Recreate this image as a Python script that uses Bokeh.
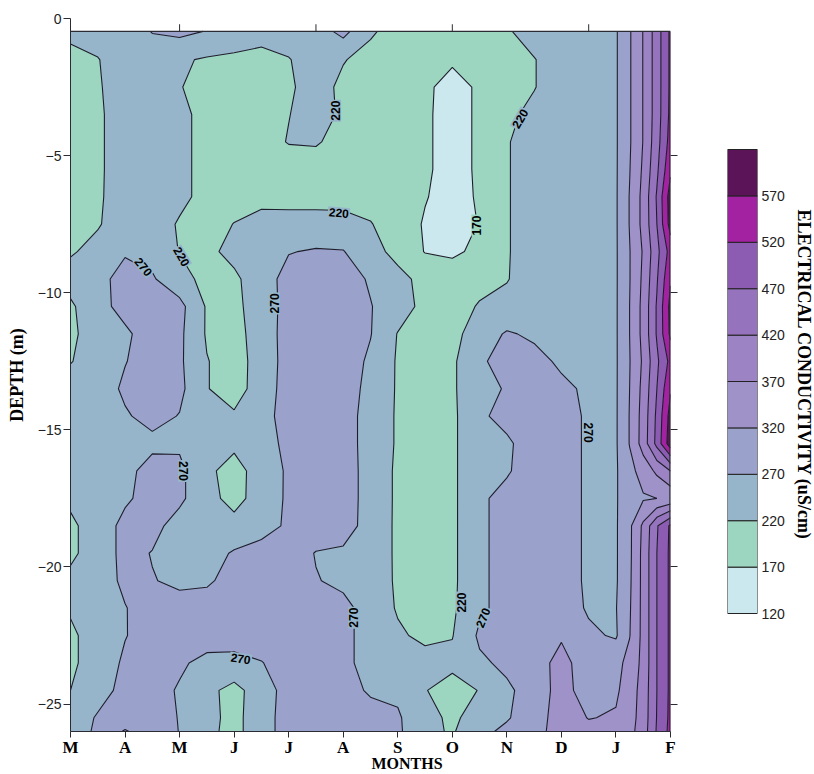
import numpy as np
from bokeh.plotting import figure
from bokeh.layouts import row
from bokeh.models import Range1d, FixedTicker, LinearAxis, ColumnDataSource, Title
from bokeh.core.properties import value
from bokeh.embed import file_html
from bokeh.resources import INLINE

# ---- data -------------------------------------------------------------
month_labels = ["M", "A", "M", "J", "J", "A", "S", "O", "N", "D", "J", "F"]
depth_ticks = [0, -5, -10, -15, -20, -25]

# sampling positions of the EC field (month index, depth in m)
grid_month = [0, 0.5, 1, 1.5, 2, 2.5, 3, 3.5, 4, 4.5, 5, 5.5, 6, 6.5, 7, 7.5,
              8, 8.5, 9, 9.5, 10, 10.25, 10.5, 10.75, 11]
grid_depth = [-0.47, -1.5, -2.5, -3.5, -4.5, -5.5, -6.5, -7.5, -8.5, -9.5,
              -10.5, -11.5, -12.5, -13.5, -14.5, -15.5, -16.5, -17.5, -18.5,
              -19.5, -20.5, -21.5, -22.5, -23.5, -24.5, -25.5, -26.0]

# electrical conductivity (uS/cm), one row per depth (shallow -> deep)
ec_values = [
    [232, 240, 245, 272, 282, 268, 245, 235, 240, 245, 285, 225, 205, 200, 200, 205, 215, 240, 245, 250, 265, 315, 372, 445, 530],
    [205, 218, 245, 245, 226, 215, 212, 208, 218, 240, 222, 208, 200, 180, 178, 200, 205, 218, 245, 250, 265, 315, 372, 445, 530],
    [200, 215, 245, 245, 222, 205, 200, 205, 215, 235, 212, 200, 192, 180, 150, 178, 205, 218, 245, 250, 265, 315, 372, 445, 530],
    [200, 212, 245, 245, 232, 205, 200, 205, 219, 235, 214, 200, 192, 178, 150, 178, 210, 232, 245, 250, 265, 315, 372, 445, 532],
    [200, 212, 245, 245, 232, 205, 200, 205, 222, 224, 205, 200, 192, 178, 150, 178, 217, 240, 245, 250, 265, 315, 372, 450, 540],
    [200, 212, 245, 245, 232, 205, 200, 200, 200, 200, 200, 198, 195, 178, 150, 178, 217, 240, 245, 250, 265, 318, 378, 460, 560],
    [200, 213, 245, 245, 232, 205, 205, 205, 202, 202, 202, 205, 195, 173, 150, 176, 217, 240, 245, 250, 265, 322, 385, 475, 595],
    [200, 216, 245, 245, 215, 205, 221, 238, 240, 240, 238, 222, 200, 165, 150, 172, 217, 240, 245, 250, 265, 322, 385, 470, 590],
    [215, 235, 265, 255, 218, 208, 235, 255, 268, 274, 272, 238, 205, 168, 162, 180, 217, 240, 245, 250, 265, 318, 375, 455, 540],
    [240, 255, 288, 275, 238, 205, 210, 250, 285, 292, 290, 265, 235, 205, 195, 205, 218, 240, 245, 250, 265, 318, 380, 465, 565],
    [212, 255, 285, 290, 285, 215, 210, 240, 290, 292, 290, 272, 245, 205, 200, 224, 232, 250, 245, 250, 265, 320, 385, 475, 585],
    [212, 240, 262, 292, 280, 215, 205, 240, 292, 295, 292, 272, 218, 200, 205, 245, 275, 262, 250, 250, 265, 320, 385, 475, 580],
    [218, 240, 268, 292, 278, 222, 200, 240, 290, 295, 295, 262, 215, 200, 212, 262, 290, 285, 262, 255, 265, 318, 378, 460, 535],
    [240, 245, 278, 295, 282, 222, 200, 242, 292, 295, 290, 258, 215, 200, 212, 262, 272, 295, 280, 262, 265, 320, 385, 470, 565],
    [240, 245, 265, 285, 268, 240, 226, 250, 292, 295, 292, 250, 215, 200, 210, 262, 285, 295, 292, 262, 265, 322, 390, 480, 590],
    [240, 245, 255, 258, 262, 245, 228, 245, 285, 295, 292, 250, 215, 200, 210, 262, 262, 295, 292, 262, 265, 322, 392, 485, 600],
    [240, 245, 255, 290, 282, 228, 205, 238, 278, 295, 292, 252, 212, 200, 210, 262, 265, 295, 292, 262, 265, 305, 340, 380, 420],
    [228, 245, 262, 290, 280, 235, 205, 240, 278, 295, 292, 252, 212, 200, 210, 262, 285, 295, 292, 262, 265, 305, 315, 320, 330],
    [212, 240, 285, 285, 250, 240, 235, 250, 278, 295, 292, 250, 212, 200, 210, 262, 285, 295, 292, 262, 265, 310, 380, 465, 528],
    [212, 240, 285, 268, 248, 250, 275, 290, 292, 268, 262, 250, 212, 200, 210, 262, 285, 295, 292, 262, 265, 310, 385, 470, 530],
    [230, 245, 280, 272, 262, 262, 290, 292, 295, 272, 262, 252, 212, 200, 210, 262, 285, 295, 292, 262, 265, 312, 385, 470, 530],
    [225, 245, 268, 292, 285, 295, 295, 295, 295, 292, 280, 255, 215, 200, 212, 262, 285, 295, 292, 265, 268, 315, 385, 470, 530],
    [212, 240, 268, 290, 292, 295, 292, 295, 295, 295, 280, 255, 228, 208, 218, 278, 290, 300, 315, 278, 265, 318, 385, 470, 530],
    [212, 240, 278, 292, 278, 255, 255, 268, 292, 295, 280, 255, 245, 240, 232, 262, 280, 300, 335, 295, 305, 335, 385, 470, 530],
    [220, 250, 285, 290, 265, 232, 205, 245, 290, 295, 285, 265, 262, 222, 200, 222, 262, 290, 340, 295, 312, 345, 390, 470, 530],
    [240, 275, 290, 290, 268, 235, 205, 250, 290, 295, 292, 285, 275, 240, 208, 248, 266, 295, 345, 318, 325, 350, 392, 472, 532],
    [240, 280, 325, 290, 269, 232, 205, 250, 290, 295, 292, 290, 278, 232, 215, 258, 280, 300, 345, 335, 340, 355, 395, 475, 535],
]

ec_levels = [120, 170, 220, 270, 320, 370, 420, 470, 520, 570, 620]
band_colors = ["#cce8ef", "#9dd6c0", "#96b5ca", "#9aa1cb", "#9f92c9",
               "#9c84c4", "#9574bd", "#8b5cb2", "#a222a2", "#5c1458"]

# contour labels: text, placement and rotation (degrees)
label_text = ["220", "220", "220", "170", "270", "220", "270",
              "270", "270", "270", "220", "270", "270"]
label_month = [4.86, 8.24, 4.92, 7.45, 1.34, 2.04, 3.74,
               2.07, 3.12, 5.19, 7.16, 7.56, 9.49]
label_depth = [-3.36, -3.65, -7.08, -7.55, -9.05, -8.68, -10.39,
               -16.5, -23.34, -21.85, -21.3, -21.85, -15.1]
label_angle = [90, 60, -5, 90, -50, -60, 90, -90, -8, 90, 90, 68, -90]
label_bg = ["#96b5ca", "#96b5ca", "#96b5ca", "#9dd6c0", "#96b5ca", "#96b5ca", "#96b5ca",
            "#96b5ca", "#96b5ca", "#96b5ca", "#96b5ca", "#96b5ca", "#96b5ca"]

top_tick_month = [2, 4.5, 7, 9.5]

# ---- layout constants ------------------------------------------------------
serif = "Liberation Serif"
sans = "Liberation Sans"
edge = "#2b2b33"
FRAME_TOP = 18
FRAME_H = 713
BOTTOM = 40

# ---- main contour panel ------------------------------------------------
z = np.array(ec_values, dtype=float)[::-1]
y = np.array(grid_depth, dtype=float)[::-1]
x = np.array(grid_month, dtype=float)

p = figure(frame_width=600, frame_height=FRAME_H,
           x_range=Range1d(0, 11), y_range=Range1d(-26, 0),
           min_border_left=70, min_border_right=20, min_border_top=FRAME_TOP,
           min_border_bottom=BOTTOM,
           output_backend="svg", toolbar_location=None,
           outline_line_color=None, background_fill_color="white")
p.grid.visible = False

p.contour(x=x, y=y, z=z, levels=ec_levels, fill_color=band_colors,
          line_color="#1d1d2b", line_width=1.1)

# frame edges of the sampled region
top = grid_depth[0]
p.segment(x0=[0], y0=[top], x1=[11], y1=[top], line_color=edge, line_width=1.3)
p.segment(x0=[11], y0=[-26], x1=[11], y1=[top], line_color=edge, line_width=2.4)
p.segment(x0=top_tick_month, y0=[top] * len(top_tick_month),
          x1=top_tick_month, y1=[top + 0.26] * len(top_tick_month),
          line_color=edge, line_width=1)

labels = ColumnDataSource(dict(x=label_month, y=label_depth, text=label_text,
                               angle=label_angle, bg=label_bg))
p.text(x="x", y="y", text="text", angle="angle", angle_units="deg", source=labels,
       text_font=value(sans), text_font_style="bold", text_font_size="12px",
       text_color="black", text_align="center", text_baseline="middle",
       background_fill_color="bg", padding=1)

# left (depth) axis
p.yaxis.ticker = FixedTicker(ticks=depth_ticks)
p.yaxis.axis_label = "DEPTH (m)"
p.yaxis.axis_label_text_font = serif
p.yaxis.axis_label_text_font_style = "bold"
p.yaxis.axis_label_text_font_size = "18px"
p.yaxis.axis_label_text_color = "black"
p.yaxis.axis_label_standoff = 8
p.yaxis.major_label_text_font = sans
p.yaxis.major_label_text_font_size = "14px"
p.yaxis.major_label_text_color = "#222"
p.yaxis.major_label_standoff = 2
p.yaxis.major_tick_out = 7
p.yaxis.major_tick_in = 0
p.yaxis.minor_tick_out = 0
p.yaxis.minor_tick_in = 0
p.yaxis.axis_line_color = edge
p.yaxis.major_tick_line_color = edge

# bottom (month) axis
p.xaxis.ticker = FixedTicker(ticks=list(range(len(month_labels))))
p.xaxis.major_label_overrides = {i: m for i, m in enumerate(month_labels)}
p.xaxis.major_label_text_font = serif
p.xaxis.major_label_text_font_style = "bold"
p.xaxis.major_label_text_font_size = "17px"
p.xaxis.major_label_text_color = "black"
p.xaxis.major_label_standoff = 0
p.xaxis.major_tick_out = 6
p.xaxis.major_tick_in = 0
p.xaxis.minor_tick_out = 0
p.xaxis.minor_tick_in = 0
p.xaxis.axis_line_color = edge
p.xaxis.major_tick_line_color = edge

# month axis title, a little right of centre
p.add_layout(Title(text="MONTHS", align="left", offset=301, standoff=-13,
                   text_font=serif, text_font_style="bold", text_font_size="16px",
                   text_color="black"), "below")

# right side ticks (no labels)
right_ticks = depth_ticks[1:]
right_axis = LinearAxis(ticker=FixedTicker(ticks=right_ticks),
                        major_label_overrides={t: "" for t in right_ticks},
                        axis_line_color=None, major_tick_out=7, major_tick_in=0,
                        minor_tick_out=0, minor_tick_in=0,
                        major_tick_line_color=edge)
p.add_layout(right_axis, "right")

# ---- colour key ----------------------------------------------------------
# The key frame shares the main frame's top and height; the value range is
# widened so that the bar itself spans pixels 149..613 of the page.
KEY_TOP_PX, KEY_BOTTOM_PX = 149, 613
px_per_unit = (KEY_BOTTOM_PX - KEY_TOP_PX) / (ec_levels[-1] - ec_levels[0])
key_hi = ec_levels[-1] + (KEY_TOP_PX - FRAME_TOP) / px_per_unit
key_lo = ec_levels[0] - (FRAME_TOP + FRAME_H - KEY_BOTTOM_PX) / px_per_unit

cb = figure(frame_width=30, frame_height=FRAME_H,
            x_range=Range1d(0, 1), y_range=Range1d(key_lo, key_hi),
            min_border_left=37, min_border_right=57, min_border_top=FRAME_TOP,
            min_border_bottom=BOTTOM,
            x_axis_location=None, y_axis_location="right",
            output_backend="svg", toolbar_location=None, outline_line_color=None)
cb.grid.visible = False
cb.quad(left=0, right=1, bottom=ec_levels[:-1], top=ec_levels[1:],
        fill_color=band_colors, line_color="#222", line_width=1)
cb.yaxis.ticker = FixedTicker(ticks=ec_levels[:-1])
cb.yaxis.axis_line_color = None
cb.yaxis.major_tick_out = 0
cb.yaxis.major_tick_in = 0
cb.yaxis.minor_tick_out = 0
cb.yaxis.minor_tick_in = 0
cb.yaxis.major_label_text_font = sans
cb.yaxis.major_label_text_font_size = "14px"
cb.yaxis.major_label_text_color = "#222"
cb.yaxis.major_label_standoff = 4
cb.yaxis.axis_label = "ELECTRICAL CONDUCTIVITY (uS/cm)"
cb.yaxis.axis_label_text_font = serif
cb.yaxis.axis_label_text_font_style = "bold"
cb.yaxis.axis_label_text_font_size = "18px"
cb.yaxis.axis_label_text_color = "black"
cb.yaxis.axis_label_standoff = 6

layout = row(p, cb)
open("out.html", "w").write(file_html(layout, INLINE))
